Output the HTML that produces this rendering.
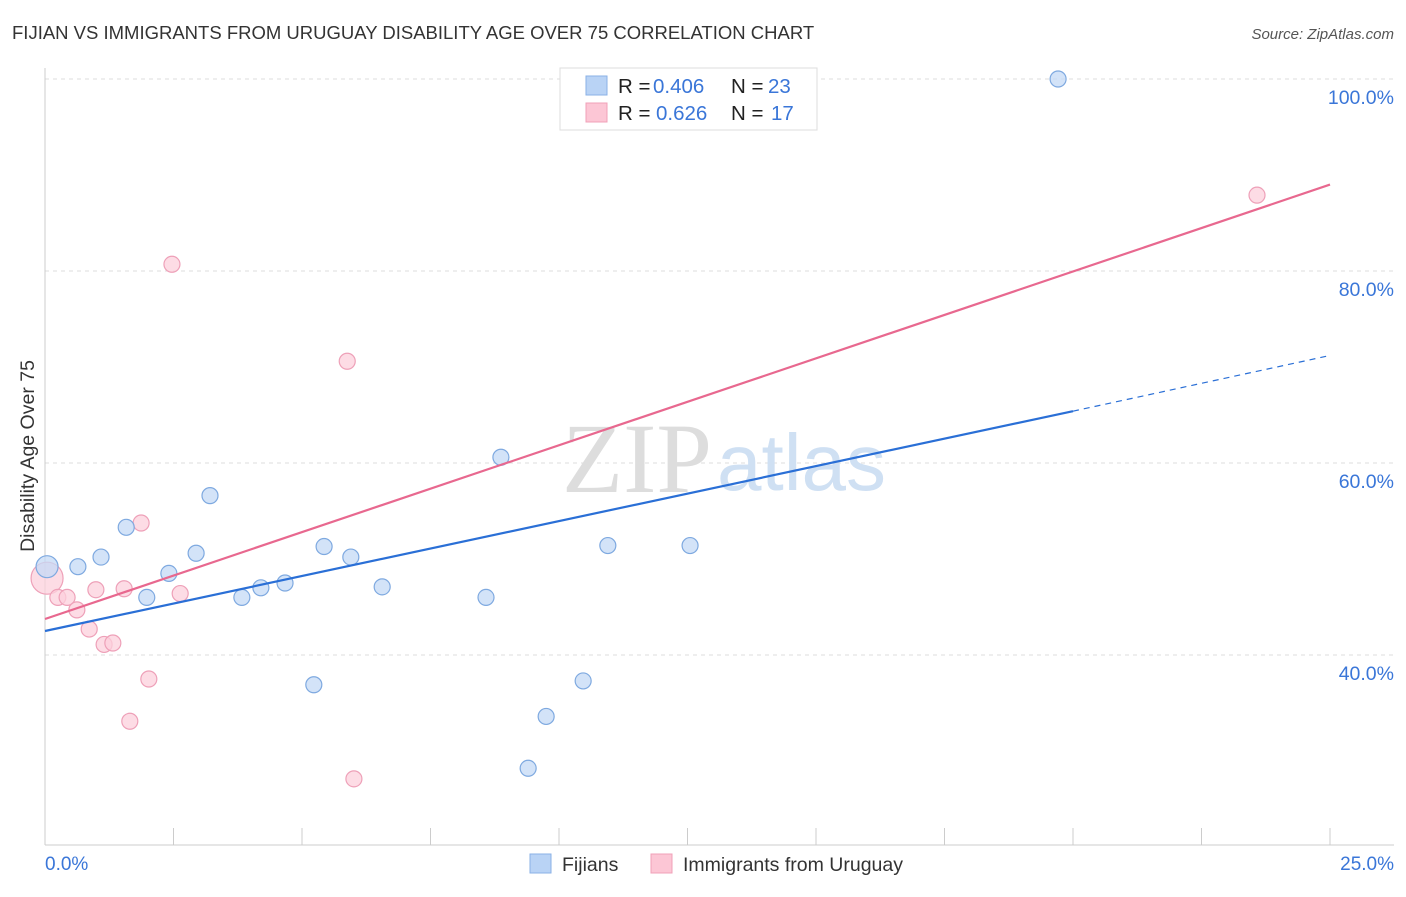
<!DOCTYPE html>
<html><head><meta charset="utf-8"><style>
body{margin:0;background:#fff;font-family:"Liberation Sans",sans-serif;}
svg text{font-family:"Liberation Sans",sans-serif;}
</style></head><body>
<svg id="chart" width="1406" height="892" viewBox="0 0 1406 892">
<text x="12" y="39" font-size="18.5" fill="#333">FIJIAN VS IMMIGRANTS FROM URUGUAY DISABILITY AGE OVER 75 CORRELATION CHART</text>
<text x="1394" y="39" font-size="15" fill="#555" font-style="italic" text-anchor="end">Source: ZipAtlas.com</text>
<g id="grid"></g>
<g id="axes"></g>
<text x="712" y="492" font-size="100" fill="#ddd" text-anchor="end" style="font-family:'Liberation Serif',serif">ZIP</text>
<text x="717" y="490" font-size="80" fill="#cfe0f3">atlas</text>
<g id="marks"></g>
<text transform="translate(34,456) rotate(-90)" font-size="19.5" fill="#333" text-anchor="middle">Disability Age Over 75</text>
<text x="45" y="870" font-size="19" fill="#3a76d8">0.0%</text>
<text x="1394" y="870" font-size="19" fill="#3a76d8" text-anchor="end">25.0%</text>
<g>
<rect x="560" y="68" width="257" height="62" fill="#fff" stroke="#ddd"/>
<rect x="586" y="76" width="21" height="19" fill="#b9d3f5" stroke="#8ab0e6"/>
<rect x="586" y="103" width="21" height="19" fill="#fcc6d5" stroke="#f0a0b8"/>
<text x="618" y="93" font-size="20.5" fill="#222">R = <tspan x="653" fill="#3a76d8">0.406</tspan><tspan x="731">N = </tspan><tspan x="768" fill="#3a76d8">23</tspan></text>
<text x="618" y="120" font-size="20.5" fill="#222">R = <tspan x="656" fill="#3a76d8">0.626</tspan><tspan x="731">N = </tspan><tspan x="771" fill="#3a76d8">17</tspan></text>
</g>
<g>
<rect x="530" y="854" width="21" height="19" fill="#b9d3f5" stroke="#8ab0e6"/>
<text x="562" y="871" font-size="19.5" fill="#333">Fijians</text>
<rect x="651" y="854" width="21" height="19" fill="#fcc6d5" stroke="#f0a0b8"/>
<text x="683" y="871" font-size="19.5" fill="#333">Immigrants from Uruguay</text>
</g>
</svg>
<script>
const blueX=[0.04,0.64,1.09,1.58,1.98,2.41,2.94,3.21,3.83,4.20,4.67,5.23,5.43,5.95,6.56,8.58,8.87,9.40,9.75,10.47,10.95,12.55,19.71];
const blueY=[49.2,49.2,50.2,53.3,46.0,48.5,50.6,56.6,46.0,47.0,47.5,36.9,51.3,50.2,47.1,46.0,60.6,28.2,33.6,37.3,51.4,51.4,100];
const pinkX=[0.04,0.25,0.43,0.62,0.86,0.99,1.15,1.32,1.54,1.65,1.87,2.02,2.47,2.63,5.88,6.01,23.58];
const pinkY=[48.0,46.0,46.0,44.7,42.7,46.8,41.1,41.25,46.9,33.1,53.75,37.5,80.7,46.4,70.6,27.1,87.9];
const blueTrend=[42.5,65.4,71.2]; // at x=0,20,25
const pinkTrend=[43.75,89.0]; // at x=0,25
const yTicks=[40,60,80,100];
const yTickLabels=["40.0%","60.0%","80.0%","100.0%"];
const xTicks=[0,2.5,5,7.5,10,12.5,15,17.5,20,22.5,25];
const NS="http://www.w3.org/2000/svg";
const X=v=>45+v/25*1285, Y=v=>79+(100-v)*9.6;
function mk(p,tag,a){const e=document.createElementNS(NS,tag);for(const k in a)e.setAttribute(k,a[k]);p.appendChild(e);return e;}
const grid=document.getElementById('grid'),axes=document.getElementById('axes'),marks=document.getElementById('marks');
yTicks.forEach((t,i)=>{
 const l=mk(grid,'line',{x1:45,x2:1394,y1:Y(t),y2:Y(t),stroke:'#ddd','stroke-dasharray':'4,4'});
 
 
 const tx=mk(grid,'text',{x:1394,y:Y(t)+25,'font-size':19.5,fill:'#3a76d8','text-anchor':'end'});
 tx.textContent=yTickLabels[i];
 
 
});
const ya=mk(axes,'line',{x1:45,x2:45,y1:68,y2:845,stroke:'#ccc'});


const xa=mk(axes,'line',{x1:45,x2:1394,y1:845,y2:845,stroke:'#ccc'});


xTicks.forEach(t=>{const e=mk(axes,'line',{x1:X(t),x2:X(t),y1:828,y2:845,stroke:'#ccc'});
 
 });
function pt(x,y,fill,stroke,r,name){const c=mk(marks,'circle',{cx:X(x),cy:Y(y),r:r,fill:fill,stroke:stroke,'stroke-width':1.2,'fill-opacity':0.75});
 
 }
pinkX.forEach((x,i)=>pt(x,pinkY[i],'#fcd0dc','#eea0b8',i==0?16:8,'uruguay-point'));
blueX.forEach((x,i)=>pt(x,blueY[i],'#c4d9f5','#7ea9e0',i==0?11:8,'fijian-point'));
let l1=mk(marks,'line',{x1:X(0),y1:Y(blueTrend[0]),x2:X(20),y2:Y(blueTrend[1]),stroke:'#2a6fd6','stroke-width':2.2});


let l2=mk(marks,'line',{x1:X(20),y1:Y(blueTrend[1]),x2:X(25),y2:Y(blueTrend[2]),stroke:'#2a6fd6','stroke-width':1.2,'stroke-dasharray':'6,5'});


let l3=mk(marks,'line',{x1:X(0),y1:Y(pinkTrend[0]),x2:X(25),y2:Y(pinkTrend[1]),stroke:'#e8688f','stroke-width':2.2});


</script>
</body></html>
